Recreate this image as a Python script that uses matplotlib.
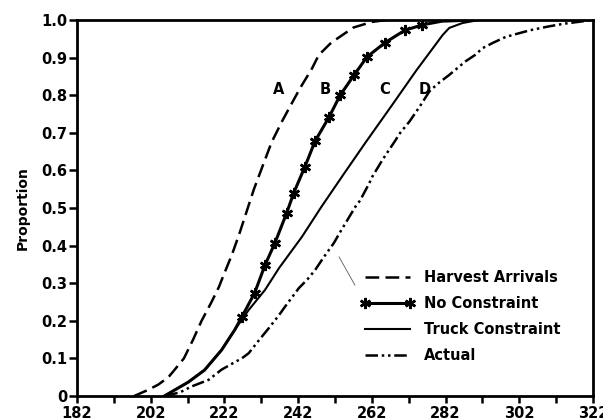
from matplotlib import pyplot as plt

# Harvest Arrivals (A)
a_dias = [197.5, 201, 204, 206.8, 208.5, 211, 213.5, 215.8, 218.5, 220.5, 222, 224, 226, 228,
          230, 232.3, 234.8, 237.6, 239.8, 242.6, 245.7, 247.6, 251, 254, 257, 262, 266]
a_prop = [0, 0.015, 0.03, 0.05, 0.07, 0.1, 0.15, 0.2, 0.25, 0.29, 0.327, 0.375, 0.43, 0.49,
          0.55, 0.61, 0.675, 0.73, 0.77, 0.82, 0.87, 0.907, 0.94, 0.96, 0.98, 0.995, 1.0]

# No Constraint (B)
b_dias = [205.7, 212.2, 216.6, 221.2, 224.8, 226.7, 230.2, 233, 235.7, 238.9, 240.8, 243.8,
          246.6, 250.4, 253.4, 257.2, 260.7, 265.6, 271, 275.7, 281, 290]
b_prop = [0, 0.037, 0.069, 0.122, 0.176, 0.21, 0.274, 0.348, 0.407, 0.487, 0.54, 0.609,
          0.678, 0.742, 0.8, 0.854, 0.902, 0.94, 0.973, 0.987, 0.997, 1.0]
b_estrellas = list(range(5, 20))

# Truck Constraint (C)
c_dias = [205.7, 212.2, 216.6, 221.2, 224.8, 228.6, 233, 236.8, 243, 248.3, 254, 260.2,
          267.5, 274, 281.2, 283, 286.6, 291]
c_prop = [0, 0.037, 0.069, 0.122, 0.176, 0.229, 0.282, 0.34, 0.423, 0.503, 0.585, 0.673,
          0.774, 0.865, 0.96, 0.979, 0.992, 1.0]

# Actual (D)
d_dias = [206, 210, 213, 217.7, 221.2, 224.8, 226.7, 228.6, 231.5, 234, 236.8, 238.4, 242.2,
          244.5, 246.6, 249, 251.7, 253.4, 257.5, 258.8, 261.3, 262.1, 265, 268.4, 269.7,
          272.2, 275, 277.6, 279.8, 283, 287.4, 290, 292, 295, 298.3, 302, 305, 310, 314,
          318, 322]
d_prop = [0, 0.01, 0.025, 0.043, 0.07, 0.09, 0.1, 0.114, 0.15, 0.18, 0.215, 0.237, 0.287,
          0.31, 0.335, 0.37, 0.407, 0.436, 0.503, 0.52, 0.566, 0.583, 0.63, 0.68, 0.7,
          0.73, 0.77, 0.81, 0.83, 0.854, 0.89, 0.907, 0.925, 0.94, 0.955, 0.965, 0.973,
          0.983, 0.99, 0.995, 1.0]

etiquetas = ['A', 'B', 'C', 'D']
etiquetas_x = [236.8, 249.3, 265.6, 276.3]
etiquetas_y = [0.814, 0.814, 0.814, 0.814]

x_ticks = [182, 202, 222, 242, 262, 282, 302, 322]
y_ticks = [0, 0.1, 0.2, 0.3, 0.4, 0.5, 0.6, 0.7, 0.8, 0.9, 1.0]
y_labels = ['0', '0.1', '0.2', '0.3', '0.4', '0.5', '0.6', '0.7', '0.8', '0.9', '1.0']

plt.rcParams['font.family'] = ['DejaVu Sans']
plt.rcParams['font.weight'] = 'bold'
plt.rcParams['axes.labelweight'] = 'bold'

fig = plt.figure(figsize=(6.03, 4.18), dpi=100)
ax = fig.add_axes([0.1277, 0.0526, 0.8557, 0.8995])

ax.plot(a_dias, a_prop, color='black', lw=1.8, dashes=(5.5, 2.5), label='Harvest Arrivals')
ax.plot(b_dias, b_prop, color='black', lw=2.2, marker=(6, 2, 0), markersize=8,
        markeredgewidth=1.8, markevery=b_estrellas, label='No Constraint')
ax.plot(c_dias, c_prop, color='black', lw=1.5, label='Truck Constraint')
ax.plot(d_dias, d_prop, color='black', lw=1.8, dashes=(5, 1.5, 1, 1.5, 1, 1.5), label='Actual')

for letra, x, y in zip(etiquetas, etiquetas_x, etiquetas_y):
    ax.text(x, y, letra, fontsize=10.5, ha='center', va='center')

# trazo fino que aparece en el original
ax.plot([253.1, 257.4], [0.37, 0.295], color='0.35', lw=0.6)

ax.set_xlim(182, 322)
ax.set_ylim(0, 1.0)
ax.set_xticks(x_ticks)
ax.set_xticks([192, 212, 232, 252, 272, 292, 312], minor=True)
ax.set_yticks(y_ticks)
ax.set_yticklabels(y_labels)
ax.tick_params(axis='both', which='both', direction='out', width=1.8, labelsize=10.5)
ax.tick_params(axis='y', length=6, pad=1)
ax.tick_params(axis='x', which='both', length=5, pad=2)
for s in ax.spines.values():
    s.set_linewidth(2)

ax.set_ylabel('Proportion', fontsize=10, labelpad=8)

ax.legend(loc='upper left', bbox_to_anchor=(0.55, 0.335), frameon=False, fontsize=10.5,
          handlelength=3.7, handletextpad=0.6, labelspacing=0.75, numpoints=2,
          borderpad=0, borderaxespad=0)

plt.savefig('out.png', dpi=100)
